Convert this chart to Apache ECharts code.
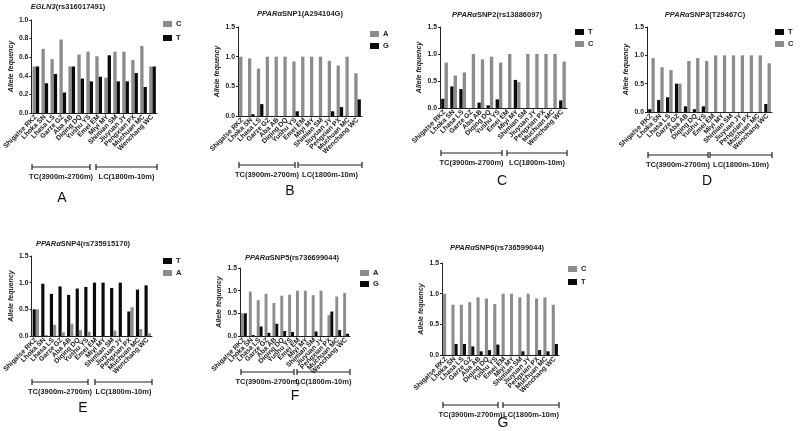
<!DOCTYPE html>
<html>
<head>
<meta charset="utf-8">
<script src="https://cdn.jsdelivr.net/npm/echarts@6/dist/echarts.min.js"></script>
<style>
  html, body { margin: 0; padding: 0; background: #fff; }
  #main { width: 800px; height: 431px; }
</style>
</head>
<body>
<div id="main"></div>
<script>
// populations, same order in every panel
var categories = ['Shigatse RKZ', 'Lhoka SN', 'Lhasa LS', 'Garze GZ', 'Aba AB', 'Diqing DQ', 'Yushu YS',
  'Emei EM', 'Miyi MY', 'Shimian SM', 'Jiuyuan JY', 'Pengxian PX', 'Muchuan MC', 'Wenchang WC'];

// A  EGLN3
var eglnC = [0.50, 0.69, 0.58, 0.79, 0.50, 0.63, 0.66, 0.61, 0.38, 0.66, 0.66, 0.57, 0.72, 0.50];
var eglnT = [0.50, 0.32, 0.42, 0.22, 0.50, 0.37, 0.34, 0.39, 0.62, 0.34, 0.34, 0.43, 0.28, 0.50];
// B  SNP1
var snp1A = [1.00, 0.97, 0.80, 1.00, 1.00, 1.00, 0.92, 1.00, 1.00, 1.00, 0.93, 0.85, 1.00, 0.72];
var snp1G = [0.00, 0.03, 0.20, 0.00, 0.00, 0.00, 0.08, 0.00, 0.00, 0.00, 0.08, 0.15, 0.00, 0.28];
// C  SNP2
var snp2T = [0.17, 0.40, 0.35, 0.00, 0.10, 0.05, 0.16, 0.00, 0.52, 0.00, 0.00, 0.00, 0.00, 0.14];
var snp2C = [0.84, 0.60, 0.66, 1.00, 0.90, 0.95, 0.84, 1.00, 0.48, 1.00, 1.00, 1.00, 1.00, 0.86];
// D  SNP3
var snp3T = [0.05, 0.21, 0.26, 0.50, 0.10, 0.05, 0.10, 0.00, 0.00, 0.00, 0.00, 0.00, 0.00, 0.14];
var snp3C = [0.95, 0.79, 0.74, 0.50, 0.90, 0.95, 0.90, 1.00, 1.00, 1.00, 1.00, 1.00, 1.00, 0.86];
// E  SNP4
var snp4T = [0.50, 0.98, 0.79, 0.93, 0.77, 0.89, 0.92, 1.00, 1.00, 0.90, 1.00, 0.46, 0.87, 0.95];
var snp4A = [0.50, 0.02, 0.21, 0.07, 0.23, 0.11, 0.08, 0.00, 0.00, 0.10, 0.00, 0.54, 0.13, 0.05];
// F  SNP5
var snp5A = [0.50, 0.98, 0.79, 0.93, 0.73, 0.89, 0.91, 1.00, 1.00, 0.90, 1.00, 0.46, 0.87, 0.95];
var snp5G = [0.50, 0.02, 0.21, 0.07, 0.27, 0.11, 0.09, 0.00, 0.00, 0.10, 0.00, 0.54, 0.13, 0.05];
// G  SNP6
var snp6C = [1.00, 0.82, 0.82, 0.86, 0.94, 0.92, 0.83, 1.00, 1.00, 0.94, 1.00, 0.92, 0.94, 0.82];
var snp6T = [0.00, 0.18, 0.18, 0.14, 0.06, 0.08, 0.17, 0.00, 0.00, 0.06, 0.00, 0.08, 0.06, 0.18];

var GRAY = '#8c8c8c';
var BLACK = '#0a0a0a';
var colorOf = { C: GRAY, A: GRAY, T: BLACK, G: BLACK };
var FONT = 'Liberation Sans, Arial, sans-serif';

var panels = [
  { letter: 'A', gene: 'EGLN3', rest: '(rs316017491)', max: 1.0, step: 0.2,
    names: ['C', 'T'], data: [eglnC, eglnT], gap: 6,
    grid: [31, 20, 126, 93], title: [68, 3], legend: [163, 20], bracket: 167, split: [90, 96], letterPos: [62, 198] },
  { letter: 'B', gene: 'PPAR\u03b1', rest: 'SNP1(A294104G)', max: 1.5, step: 0.5,
    names: ['A', 'G'], data: [snp1A, snp1G], gap: 4,
    grid: [238, 27, 124, 89], title: [300, 10], legend: [370, 30], bracket: 165, split: [295, 298], letterPos: [290, 191] },
  { letter: 'C', gene: 'PPAR\u03b1', rest: 'SNP2(rs13886097)', max: 1.5, step: 0.5,
    names: ['T', 'C'], data: [snp2T, snp2C], gap: 4,
    grid: [440, 27, 127, 81], title: [497, 11], legend: [575, 28], bracket: 153, split: [502, 507], letterPos: [502, 181] },
  { letter: 'D', gene: 'PPAR\u03b1', rest: 'SNP3(T29467C)', max: 1.5, step: 0.5,
    names: ['T', 'C'], data: [snp3T, snp3C], gap: 4,
    grid: [647, 27, 125, 85], title: [705, 11], legend: [775, 28], bracket: 155, split: [708, 710], letterPos: [707, 181] },
  { letter: 'E', gene: 'PPAR\u03b1', rest: 'SNP4(rs735915170)', max: 1.5, step: 0.5,
    names: ['T', 'A'], data: [snp4T, snp4A], gap: 4,
    grid: [31, 256, 121, 80], title: [83, 240], legend: [163, 257], bracket: 382, split: [88, 95], letterPos: [83, 408] },
  { letter: 'F', gene: 'PPAR\u03b1', rest: 'SNP5(rs736699044)', max: 1.5, step: 0.5,
    names: ['A', 'G'], data: [snp5A, snp5G], gap: 3,
    grid: [240, 268, 110, 68], title: [292, 254], legend: [360, 269], bracket: 372, split: [294, 297], letterPos: [295, 396] },
  { letter: 'G', gene: 'PPAR\u03b1', rest: 'SNP6(rs736599044)', max: 1.5, step: 0.5,
    names: ['C', 'T'], data: [snp6C, snp6T], gap: 5,
    grid: [442, 263, 117, 92], title: [497, 244], legend: [568, 265], bracket: 405, split: [498, 503], letterPos: [503, 423] }
];

var axisLineStyle = { color: '#222', width: 1 };
var option = {
  animation: false,
  backgroundColor: '#fff',
  textStyle: { fontFamily: FONT },
  title: [], legend: [], grid: [], xAxis: [], yAxis: [], series: [], graphic: []
};

panels.forEach(function(p, i) {
  option.title.push({
    text: '{i|' + p.gene + '}{n|' + p.rest + '}',
    left: p.title[0], top: p.title[1], textAlign: 'center', padding: 0,
    textStyle: {
      rich: {
        i: { fontFamily: FONT, fontSize: 7.5, fontStyle: 'italic', fontWeight: 'bold', color: '#222' },
        n: { fontFamily: FONT, fontSize: 7.5, fontWeight: 'bold', color: '#222' }
      }
    }
  });
  option.legend.push({
    data: p.names, left: p.legend[0], top: p.legend[1], orient: 'vertical',
    icon: 'rect', itemWidth: 9, itemHeight: 6, itemGap: p.gap, padding: 0, selectedMode: false,
    textStyle: { fontFamily: FONT, fontSize: 7.5, fontWeight: 'bold', color: '#222', padding: [0, 0, 0, -1] }
  });
  option.grid.push({ left: p.grid[0], top: p.grid[1], width: p.grid[2], height: p.grid[3] });
  option.xAxis.push({
    type: 'category', gridIndex: i, data: categories,
    axisLine: { lineStyle: axisLineStyle },
    axisTick: { alignWithLabel: true, length: 2, lineStyle: axisLineStyle },
    axisLabel: { interval: 0, rotate: 45, fontSize: 6.8, fontWeight: 'bold', color: '#222', margin: 3, fontFamily: FONT }
  });
  option.yAxis.push({
    type: 'value', gridIndex: i, min: 0, max: p.max, interval: p.step,
    name: 'Allele fequency', nameLocation: 'middle', nameGap: 17,
    nameTextStyle: { fontFamily: FONT, fontSize: 7, fontStyle: 'italic', fontWeight: 'bold', color: '#222' },
    axisLine: { show: true, lineStyle: axisLineStyle },
    axisTick: { show: true, length: 2, lineStyle: axisLineStyle },
    splitLine: { show: false },
    axisLabel: { fontSize: 6.8, fontWeight: 'bold', color: '#222', margin: 3, fontFamily: FONT,
      formatter: function(v) { return v.toFixed(1); } }
  });
  p.names.forEach(function(n, k) {
    option.series.push({
      name: n, type: 'bar', xAxisIndex: i, yAxisIndex: i, data: p.data[k],
      barGap: '0%', barCategoryGap: '26%',
      itemStyle: { color: colorOf[n], borderWidth: 0 }
    });
  });

  // region brackets below the axis labels
  var x0 = p.grid[0], x1 = p.grid[0] + p.grid[2], y = p.bracket;
  var segs = [[x0 + 1, p.split[0]], [p.split[1], x1]];
  var labels = ['TC(3900m-2700m)', 'LC(1800m-10m)'];
  segs.forEach(function(s, k) {
    option.graphic.push({ type: 'line', shape: { x1: s[0], y1: y, x2: s[1], y2: y }, style: { stroke: '#222', lineWidth: 1.2 } });
    option.graphic.push({ type: 'line', shape: { x1: s[0], y1: y - 3, x2: s[0], y2: y + 3 }, style: { stroke: '#222', lineWidth: 1.2 } });
    option.graphic.push({ type: 'line', shape: { x1: s[1], y1: y - 3, x2: s[1], y2: y + 3 }, style: { stroke: '#222', lineWidth: 1.2 } });
    option.graphic.push({ type: 'text', x: (s[0] + s[1]) / 2, y: y + 10,
      style: { text: labels[k], fill: '#222', font: 'bold 7.5px ' + FONT, align: 'center', verticalAlign: 'middle' } });
  });
  option.graphic.push({ type: 'text', x: p.letterPos[0], y: p.letterPos[1],
    style: { text: p.letter, fill: '#111', font: '14px ' + FONT, align: 'center', verticalAlign: 'middle' } });
});

var chart = echarts.init(document.getElementById('main'));
chart.setOption(option);
</script>
</body>
</html>
